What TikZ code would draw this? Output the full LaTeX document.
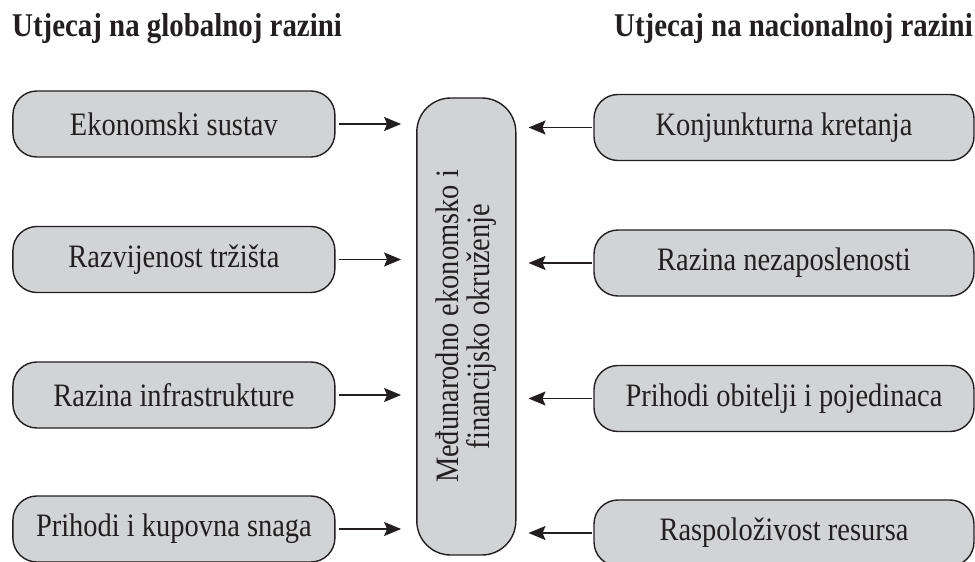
\documentclass[tikz,border=0pt]{standalone}
\usepackage{fontspec}
\setmainfont{Liberation Serif}[FakeStretch=0.87]
\usetikzlibrary{arrows.meta}
\definecolor{boxfill}{HTML}{D1D3D4}
\definecolor{ink}{HTML}{231F20}
\tikzset{
  x=1pt, y=-1pt,
  box/.style={draw=ink, fill=boxfill, line width=1.4pt, rounded corners=24pt,
    inner sep=0pt, text=ink, font=\fontsize{32.7pt}{38pt}\selectfont},
  lbox/.style={box, minimum width=322pt, minimum height=66pt},
  rbox/.style={box, minimum width=380pt, minimum height=66pt},
  arr/.style={draw=ink, line width=1.5pt, -{Stealth[length=17pt,width=14pt,inset=3pt]}},
  heading/.style={inner sep=0pt, text=ink, font=\fontsize{33.2pt}{38pt}\selectfont\bfseries},
}
\begin{document}
\begin{tikzpicture}
\useasboundingbox (0,0) rectangle (975,562);
% headings
\node[heading, anchor=base west] (hl) at (12,36.7) {Utjecaj na globalnoj razini};
\node[heading, anchor=base east] (hr) at (973,36.7) {Utjecaj na nacionalnoj razini};
% central node
\node[box, rounded corners=34pt, minimum width=99pt, minimum height=457pt] (c) at (466.3,326.5) {};
\node[inner sep=0pt, text=ink, rotate=90, align=center,
  font=\fontsize{32.7pt}{31pt}\selectfont] (ct) at (c.center) {Međunarodno ekonomsko i\\financijsko okruženje};
% left boxes
\node[lbox] (l1) at (173.9,124) {Ekonomski sustav};
\node[lbox] (l2) at (173.9,259.5) {Razvijenost tržišta};
\node[lbox] (l3) at (173.9,395) {Razina infrastrukture};
\node[lbox] (l4) at (173.9,529) {Prihodi i kupovna snaga};
% right boxes
\node[rbox] (r1) at (784,127.5) {Konjunkturna kretanja};
\node[rbox] (r2) at (784,263) {Razina nezaposlenosti};
\node[rbox] (r3) at (784,398.5) {Prihodi obitelji i pojedinaca};
\node[rbox] (r4) at (784,533) {Raspoloživost resursa};
% arrows
\foreach \i in {1,2,3,4}{
  \draw[arr, shorten <=3pt, shorten >=15pt] (l\i.east) -- (l\i.east -| c.west);
  \draw[arr, shorten <=1pt, shorten >=12pt] (r\i.west) -- (r\i.west -| c.east);
}
\end{tikzpicture}
\end{document}
